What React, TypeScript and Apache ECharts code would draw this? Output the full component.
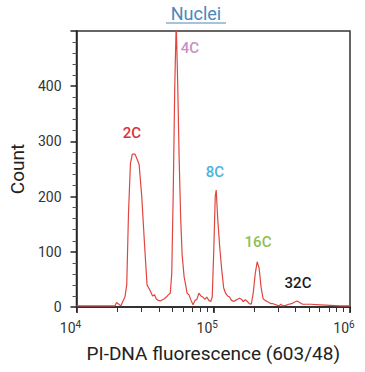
import React, { useEffect, useRef } from "react";
import * as echarts from "echarts";

// PI-DNA fluorescence (log scale) and counts
const fluorescence = [
  1.0e4, 1.57e4, 1.91e4, 1.96e4, 2.04e4, 2.11e4, 2.18e4, 2.26e4, 2.33e4, 2.4e4, 2.48e4, 2.56e4,
  2.67e4, 2.73e4, 2.8e4, 2.87e4, 3.0e4, 3.15e4, 3.28e4, 3.37e4, 3.48e4, 3.6e4, 3.72e4, 3.84e4,
  3.97e4, 4.11e4, 4.25e4, 4.39e4, 4.54e4, 4.69e4, 4.85e4, 4.97e4, 5.1e4, 5.23e4, 5.36e4, 5.49e4,
  5.63e4, 5.78e4, 5.92e4, 6.12e4, 6.28e4, 6.44e4, 6.65e4, 6.88e4, 7.11e4, 7.35e4, 7.6e4, 7.85e4,
  8.12e4, 8.4e4, 8.68e4, 8.98e4, 9.28e4, 9.59e4, 9.83e4, 1.008e5, 1.034e5, 1.051e5, 1.078e5, 1.114e5,
  1.151e5, 1.191e5, 1.231e5, 1.273e5, 1.315e5, 1.36e5, 1.406e5, 1.453e5, 1.503e5, 1.553e5, 1.606e5,
  1.66e5, 1.717e5, 1.775e5, 1.835e5, 1.897e5, 1.96e5, 2.027e5, 2.095e5, 2.166e5, 2.239e5, 2.315e5,
  2.393e5, 2.475e5, 2.558e5, 2.644e5, 2.734e5, 2.874e5, 3.02e5, 3.123e5, 3.228e5, 3.393e5, 3.566e5,
  3.75e5, 3.94e5, 4.11e5, 4.28e5, 4.5e5, 5.14e5, 6.07e5, 7.17e5, 8.47e5, 1.0e6,
];
const counts = [
  2, 2, 2, 8, 5, 2, 10, 18, 40, 170, 260, 277,
  277, 272, 265, 258, 200, 110, 40, 35, 28, 20, 22, 14,
  12, 11, 13, 15, 18, 22, 25, 60, 210, 400, 515, 410,
  270, 160, 95, 55, 40, 25, 22, 12, 4, 12, 14, 25,
  20, 18, 14, 18, 12, 10, 18, 100, 200, 212, 160, 110,
  70, 35, 25, 20, 18, 12, 10, 12, 14, 16, 14,
  10, 13, 10, 6, 5, 25, 60, 82, 70, 35, 15,
  12, 10, 8, 6, 6, 4, 2, 5, 2, 3, 5,
  6, 9, 11, 8, 5, 5, 4, 3, 2, 2,
];

const xTickValues = [
  1e4, 2e4, 3e4, 4e4, 5e4, 6e4, 7e4, 8e4, 9e4, 1e5,
  2e5, 3e5, 4e5, 5e5, 6e5, 7e5, 8e5, 9e5, 1e6,
];
const xMajorValues = [1e4, 1e5, 1e6];
const yTickLabels = ["0", "100", "200", "300", "400"];

const peakLabels = ["2C", "4C", "8C", "16C", "32C"];
const peakColors = ["#d8333a", "#c890c4", "#4db3dc", "#8dbf55", "#1a1a1a"];
const peakPos = [
  [132, 133],
  [190, 48],
  [215, 172],
  [258, 242],
  [298, 283],
];

const FONT = "Roboto, 'Noto Sans', sans-serif";

export default function App() {
  const ref = useRef<HTMLDivElement>(null);
  useEffect(() => {
    if (!ref.current) return;
    const chart = echarts.init(ref.current, null, { renderer: "svg" });
    const data = fluorescence.map((f, i) => [f, counts[i]]);
    const supLabel = (v: number) => "10{s|" + Math.round(Math.log10(v)) + "}{p|}";
    chart.setOption({
      animation: false,
      backgroundColor: "#ffffff",
      grid: {
        left: 73,
        right: 15,
        top: 31,
        bottom: 65,
        show: true,
        borderColor: "#333",
        borderWidth: 1.5,
      },
      xAxis: [
        {
          type: "log",
          logBase: 10,
          min: 1e4,
          max: 1e6,
          position: "bottom",
          axisLine: { show: true, lineStyle: { color: "#222", width: 1.5 } },
          axisTick: {
            show: true,
            customValues: xTickValues,
            length: 5,
            inside: false,
            lineStyle: { color: "#333", width: 1 },
          },
          axisLabel: { show: false },
          splitLine: { show: false },
          name: "PI-DNA fluorescence (603/48)",
          nameLocation: "middle",
          nameGap: 37,
          nameTextStyle: { fontFamily: FONT, fontSize: 19, color: "#222" },
        },
        {
          type: "log",
          logBase: 10,
          min: 1e4,
          max: 1e6,
          position: "bottom",
          axisLine: { show: false },
          axisTick: {
            show: true,
            customValues: xMajorValues,
            length: 6,
            lineStyle: { color: "#222", width: 1.6 },
          },
          axisLabel: {
            show: true,
            customValues: xMajorValues,
            margin: 12,
            formatter: (v: number) => supLabel(v),
            color: "#333",
            fontFamily: FONT,
            fontSize: 14,
            rich: {
              s: { fontSize: 10, verticalAlign: "top", padding: [0, 0, 8, 0], color: "#333", fontFamily: FONT },
              p: { width: 12 },
            },
          },
          splitLine: { show: false },
        },
      ],
      yAxis: {
        type: "value",
        min: 0,
        max: 500,
        interval: 100,
        axisLine: { show: true, lineStyle: { color: "#222", width: 1.5 } },
        axisTick: { show: true, length: 6, lineStyle: { color: "#222", width: 1.5 } },
        minorTick: { show: true, splitNumber: 5, length: 4, lineStyle: { color: "#555", width: 1 } },
        axisLabel: {
          margin: 15,
          color: "#333",
          fontFamily: FONT,
          fontSize: 14,
          formatter: (v: number) => {
            const s = String(v);
            return yTickLabels.includes(s) ? s : "";
          },
        },
        splitLine: { show: false },
        name: "Count",
        nameLocation: "middle",
        nameGap: 48,
        nameTextStyle: { fontFamily: FONT, fontSize: 19, color: "#222" },
      },
      series: [
        {
          type: "line",
          xAxisIndex: 0,
          data,
          showSymbol: false,
          symbol: "none",
          clip: true,
          lineStyle: { color: "#e0463f", width: 1.2 },
          z: 3,
        },
      ],
      graphic: [
        {
          type: "text",
          x: 196,
          y: 13,
          style: {
            text: "Nuclei",
            fill: "#4b87bb",
            font: "18px " + FONT,
            align: "center",
            verticalAlign: "middle",
          },
        },
        {
          type: "line",
          shape: { x1: 166, y1: 23, x2: 226, y2: 23 },
          style: { stroke: "#4b87bb", lineWidth: 1 },
        },
        ...peakLabels.map((t, i) => ({
          type: "text",
          x: peakPos[i][0],
          y: peakPos[i][1],
          style: {
            text: t,
            fill: peakColors[i],
            font: "500 15px " + FONT,
            align: "center",
            verticalAlign: "middle",
          },
        })),
      ],
    });
    return () => chart.dispose();
  }, []);
  return (
    <div
      ref={ref}
      style={{ position: "fixed", left: 0, top: 0, width: 365, height: 372 }}
    />
  );
}
